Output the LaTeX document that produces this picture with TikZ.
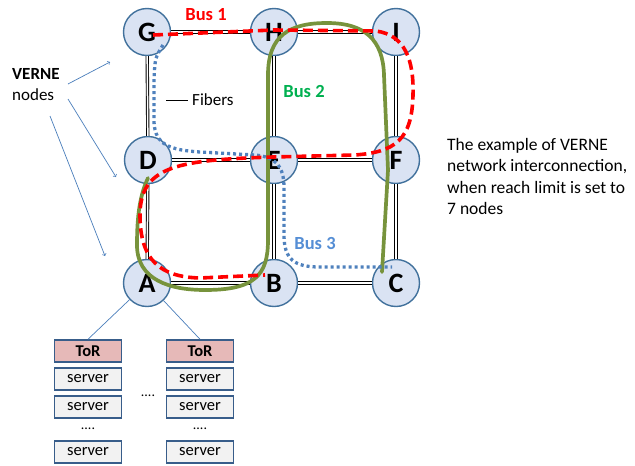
\documentclass[tikz,border=0pt]{standalone}
\usepackage{fontspec}
\setmainfont{Carlito}
\definecolor{nfill}{RGB}{218,227,243}
\definecolor{nborder}{RGB}{65,113,156}
\definecolor{busred}{RGB}{255,0,0}
\definecolor{busgreen}{RGB}{119,147,60}
\definecolor{lblgreen}{RGB}{0,176,80}
\definecolor{busblue}{RGB}{79,129,189}
\definecolor{lblblue}{RGB}{85,142,213}
\definecolor{arrowblue}{RGB}{74,126,187}
\definecolor{torfill}{RGB}{230,185,184}
\definecolor{srvfill}{RGB}{242,242,242}
\definecolor{boxborder}{RGB}{56,93,138}
\begin{document}
\begin{tikzpicture}[x=1pt,y=-1pt,
  vnode/.style={circle, draw=nborder, line width=1.4pt, fill=nfill, minimum size=47pt, inner sep=0pt, font=\fontsize{28}{28}\selectfont\bfseries},
  fiber/.style={draw=black, line width=0.9pt, double=white, double distance=1.5pt},
  busone/.style={draw=busred, line width=3.6pt, dash pattern=on 10pt off 5pt},
  bustwo/.style={draw=busgreen, line width=3.7pt, line cap=round},
  busthree/.style={draw=busblue, line width=3.3pt, dash pattern=on 3pt off 3pt},
  buslabel/.style={font=\fontsize{18.5}{18.5}\selectfont\bfseries, inner sep=0pt},
  txt/.style={font=\fontsize{17}{20}\selectfont, inner sep=0pt},
  pointer/.style={draw=arrowblue, line width=0.7pt, ->},
  tor/.style={draw=boxborder, line width=1.5pt, fill=torfill, minimum width=67pt, minimum height=22pt, inner sep=0pt, font=\fontsize{16.5}{16.5}\selectfont\bfseries},
  srv/.style={draw=boxborder, line width=1.5pt, fill=srvfill, minimum width=67pt, minimum height=22pt, inner sep=0pt, font=\fontsize{16.5}{16.5}\selectfont},
  dotsl/.style={font=\fontsize{14}{14}\selectfont, inner sep=0pt}
]
\useasboundingbox (0,0) rectangle (635,466);

% VERNE nodes
\node[vnode] (G) at (147,32) {G};
\node[vnode] (H) at (274,32) {H};
\node[vnode] (I) at (396,32) {I};
\node[vnode] (D) at (148,160) {D};
\node[vnode] (E) at (274,160) {E};
\node[vnode] (F) at (396,160) {F};
\node[vnode] (A) at (147,283) {A};
\node[vnode] (B) at (274,283) {B};
\node[vnode] (C) at (396,283) {C};

% fibers
\draw[fiber] (G) -- (H);
\draw[fiber] (H) -- (I);
\draw[fiber] (D) -- (E);
\draw[fiber] (E) -- (F);
\draw[fiber] (A) -- (B);
\draw[fiber] (B) -- (C);
\draw[fiber] (G) -- (D);
\draw[fiber] (D) -- (A);
\draw[fiber] (H) -- (E);
\draw[fiber] (E) -- (B);
\draw[fiber] (I) -- (F);
\draw[fiber] (F) -- (C);

% Bus 2 (green)
\draw[bustwo] (148,178) .. controls (140,195) and (137,215) .. (137,245)
  .. controls (137,280) and (170,290) .. (205,290)
  .. controls (255,290) and (268,275) .. (268,240)
  -- (268,75) .. controls (268,35) and (290,23) .. (327,23)
  .. controls (365,23) and (383,40) .. (384,75)
  -- (388,170) -- (382,272);

% Bus 3 (blue dotted)
\draw[busthree] (163,45) .. controls (155,58) .. (154,80) -- (154,122)
  .. controls (155,145) and (170,150) .. (200,152) -- (255,155)
  .. controls (275,157) and (284,165) .. (284,188) -- (284,235)
  .. controls (284,260) and (295,267) .. (320,267) -- (392,267);

% Bus 1 (red dashed)
\draw[busone] (153,35) -- (274,30) -- (376,31)
  .. controls (405,35) and (414,60) .. (413,95)
  .. controls (412,140) and (395,152) .. (355,155)
  -- (273,157) .. controls (180,160) and (140,165) .. (140,215)
  .. controls (140,260) and (160,277) .. (200,278) -- (265,275);

% bus labels
\node[buslabel, text=busred] (b1) at (206,15) {Bus 1};
\node[buslabel, text=lblgreen] (b2) at (304,92) {Bus 2};
\node[buslabel, text=lblblue] (b3) at (315,243) {Bus 3};

% fibers legend
\node[txt, anchor=west] (fib) at (192,100) {Fibers};
\coordinate (fibL) at (166,99);
\coordinate (fibR) at (188,99);
\draw[draw=black, line width=0.8pt, double=white, double distance=1.4pt] (fibL) -- (fibR);

% VERNE nodes label
\node[txt, anchor=west, font=\fontsize{17}{17}\selectfont\bfseries] (vl1) at (12,74) {VERNE};
\node[txt, anchor=west] (vl2) at (12,95) {nodes};
\coordinate (p1s) at (68,84);
\coordinate (p1e) at (110,62);
\coordinate (p2s) at (68,99);
\coordinate (p2e) at (116,177);
\coordinate (p3s) at (50,116);
\coordinate (p3e) at (105,256);
\draw[pointer] (p1s) -- (p1e);
\draw[pointer] (p2s) -- (p2e);
\draw[pointer] (p3s) -- (p3e);

% description
\node[txt, anchor=north west, align=left, font=\fontsize{17.5}{21.5}\selectfont] (desc) at (447,138)
  {The example of VERNE\\network interconnection,\\when reach limit is set to\\7 nodes};

% racks
\node[tor] (t1) at (88,351) {ToR};
\node[srv] (s11) at (88,379) {server};
\node[srv] (s12) at (88,407) {server};
\node[dotsl] (d1) at (88,429) {....};
\node[srv] (s13) at (88,452) {server};
\node[tor] (t2) at (200,351) {ToR};
\node[srv] (s21) at (200,379) {server};
\node[srv] (s22) at (200,407) {server};
\node[dotsl] (d2) at (200,429) {....};
\node[srv] (s23) at (200,452) {server};
\node[dotsl] (dm) at (148,396) {....};
\draw[draw=arrowblue, line width=0.7pt] (A) -- (t1.north);
\draw[draw=arrowblue, line width=0.7pt] (A) -- (t2.north);
\end{tikzpicture}
\end{document}
